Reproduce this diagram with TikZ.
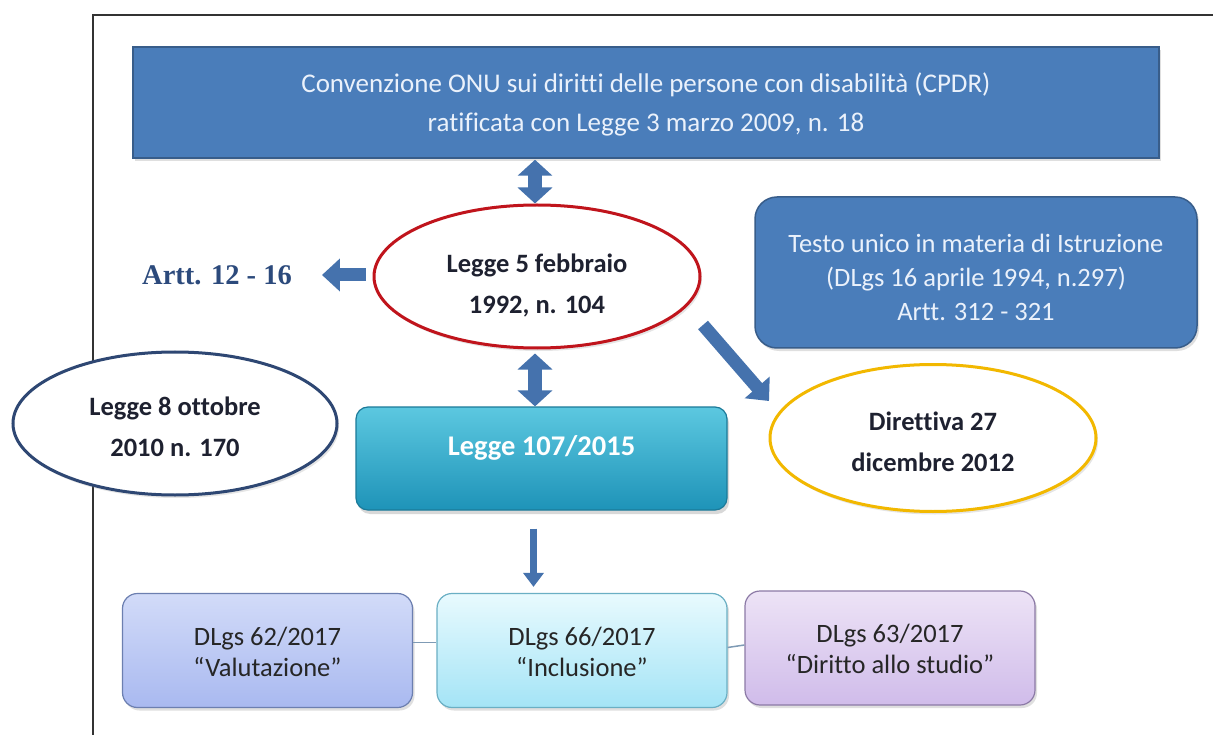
\documentclass[tikz,border=0pt]{standalone}
\usepackage{fontspec}
\setmainfont{Carlito}[Ligatures={NoCommon}]
\newfontfamily\timesf{Liberation Serif}
\usetikzlibrary{arrows.meta,shapes.geometric,shadows}
\newcommand{\shiftdn}[2]{\raisebox{-#1}[\height][\depth]{\begin{tabular}{@{}c@{}}#2\end{tabular}}}
\definecolor{boxblue}{HTML}{4A7DBA}
\definecolor{boxblueb}{HTML}{385D8A}
\definecolor{txtlight}{HTML}{EAF1FB}
\definecolor{redell}{HTML}{C0141C}
\definecolor{navyell}{HTML}{2E4773}
\definecolor{goldell}{HTML}{F2B800}
\definecolor{tealtop}{HTML}{5CC8E0}
\definecolor{tealbot}{HTML}{1E93B8}
\definecolor{tealb}{HTML}{1B7A99}
\definecolor{bAtop}{HTML}{D2DBF8}
\definecolor{bAbot}{HTML}{A9B9F0}
\definecolor{bAb}{HTML}{6C7FB0}
\definecolor{bBtop}{HTML}{E8FAFE}
\definecolor{bBbot}{HTML}{A4E4F6}
\definecolor{bBb}{HTML}{6AAFC4}
\definecolor{bCtop}{HTML}{EDE3F6}
\definecolor{bCbot}{HTML}{D0BCEA}
\definecolor{bCb}{HTML}{8C7AA6}
\definecolor{arttc}{HTML}{2C4A7C}
\definecolor{arrowc}{HTML}{4572AD}
\definecolor{linkc}{HTML}{7F9BB5}
\definecolor{elltext}{HTML}{1E2130}
\begin{document}
\begin{tikzpicture}[x=1pt,y=-1pt,
  bluebox/.style={draw=boxblueb, line width=1.5pt, fill=boxblue, text=txtlight, align=center, inner sep=0pt,
    drop shadow={opacity=0.25, shadow xshift=2pt, shadow yshift=-3pt}},
  ell/.style={ellipse, fill=white, line width=3pt, align=center, inner sep=0pt, text=elltext,
    font=\bfseries\fontsize{26.5}{41}\selectfont,
    drop shadow={opacity=0.2, shadow xshift=2pt, shadow yshift=-3pt}},
  lowbox/.style={rounded corners=15pt, line width=1.2pt, minimum width=290pt, minimum height=114pt, align=center, inner sep=0pt,
    font=\fontsize{26.5}{31}\selectfont, text=black!85,
    drop shadow={opacity=0.25, shadow xshift=2pt, shadow yshift=-3pt}},
  blk/.style={draw=arrowc, line width=13pt, -{Triangle[length=18pt,width=32pt]}},
  blkthin/.style={draw=arrowc, line width=7pt, -{Triangle[length=14pt,width=20pt]}},
  dbl/.style={draw=arrowc, line width=14pt, {Triangle[length=16pt,width=34pt]}-{Triangle[length=16pt,width=34pt]}},
  link/.style={draw=linkc, line width=1.5pt}]
\useasboundingbox (0,0) rectangle (1213,735);
\fill[white] (0,0) rectangle (1213,735);
\draw[black!80, line width=1.5pt] (93,735) -- (93,15) -- (1213,15);

\node[bluebox, minimum width=1026pt, minimum height=111pt, font=\fontsize{27}{39}\selectfont] (onu) at (646,102.5)
  {\shiftdn{2pt}{Convenzione ONU sui diritti delle persone con disabilità (CPDR)\\ratificata con Legge 3 marzo 2009, n. 18}};

\node[bluebox, rounded corners=22pt, minimum width=442pt, minimum height=151pt, font=\fontsize{26.5}{34}\selectfont] (tu) at (976,272.5)
  {\shiftdn{7pt}{Testo unico in materia di Istruzione\\(DLgs 16 aprile 1994, n.297)\\Artt. 312 - 321}};

\node[ell, draw=redell, minimum width=326pt, minimum height=143pt] (l104) at (537,276.5) {\shiftdn{8pt}{Legge 5 febbraio\\1992, n. 104}};
\node[ell, draw=navyell, minimum width=324pt, minimum height=143pt] (l170) at (175,423.5) {\shiftdn{4pt}{Legge 8 ottobre\\2010 n. 170}};
\node[ell, draw=goldell, minimum width=326pt, minimum height=147pt] (dir) at (933,438) {\shiftdn{5pt}{Direttiva 27\\dicembre 2012}};

\node[inner sep=0pt, text=arttc, font=\timesf\bfseries\fontsize{28.5}{30}\selectfont] (artt) at (217,275) {Artt. 12 - 16};

\node[draw=tealb, line width=1.2pt, rounded corners=12pt, top color=tealtop, bottom color=tealbot, minimum width=371pt, minimum height=103pt,
  text=white, font=\bfseries\fontsize{28.5}{32}\selectfont, inner sep=0pt,
  drop shadow={opacity=0.3, shadow xshift=2pt, shadow yshift=-4pt}] (l107) at (541.5,458.5) {\shiftdn{-9pt}{Legge 107/2015}};

\node[lowbox, draw=bAb, top color=bAtop, bottom color=bAbot] (b1) at (267.5,650.5) {\shiftdn{4pt}{DLgs 62/2017\\“Valutazione”}};
\node[lowbox, draw=bBb, top color=bBtop, bottom color=bBbot] (b2) at (582,650.5) {\shiftdn{4pt}{DLgs 66/2017\\“Inclusione”}};
\node[lowbox, draw=bCb, top color=bCtop, bottom color=bCbot] (b3) at (890,648) {\shiftdn{4pt}{DLgs 63/2017\\“Diritto allo studio”}};

\draw[link] ([yshift=8pt]b1.east) -- ([yshift=8pt]b2.west);
\draw[link] ([yshift=3pt]b2.east) -- ([yshift=3pt]b3.west);

\draw[dbl, shorten <=1pt, shorten >=0pt] ([xshift=-2pt]l104.north |- onu.south) -- ([xshift=-2pt]l104.north);
\draw[dbl, shorten <=4pt] ([xshift=-2pt]l104.south) -- ([xshift=-2pt]l104.south |- l107.north);
\draw[blk, shorten <=7pt, shorten >=30pt] (l104.west |- artt.east) -- (artt.east);
\coordinate (d1) at (703,325);
\coordinate (d2) at (769,401);
\draw[blk] (d1) -- (d2);
\draw[blkthin, shorten <=18pt, shorten >=6pt] ([xshift=-8pt]l107.south) -- ([xshift=-8pt]l107.south |- b2.north);
\end{tikzpicture}
\end{document}
